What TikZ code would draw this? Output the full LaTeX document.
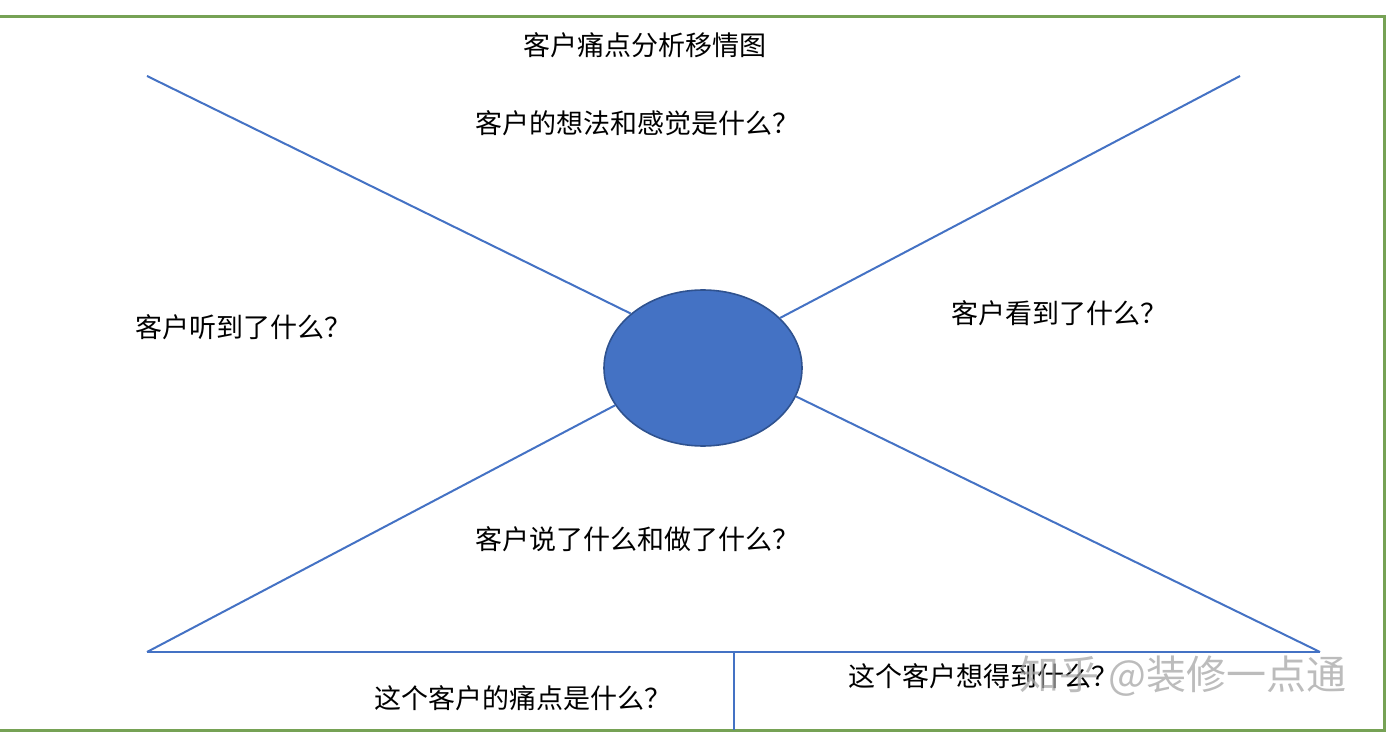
\documentclass[tikz,border=0pt]{standalone}
\usepackage{fontspec}
\newfontfamily\cjk{Noto Sans CJK SC}
\usetikzlibrary{shapes.geometric}
\definecolor{frame}{HTML}{76A255}
\definecolor{lineblue}{HTML}{4472C4}
\definecolor{ellborder}{HTML}{2F528F}
\tikzset{
  lbl/.style={font=\cjk\fontsize{13.5pt}{16pt}\selectfont, inner sep=0pt, text=black},
  conn/.style={draw=lineblue, line width=1pt},
  wm/.style={font=\cjk\fontsize{20pt}{24pt}\selectfont, inner sep=0pt, text=gray!70, opacity=0.75}
}
\begin{document}
\begin{tikzpicture}[x=0.5pt,y=-0.5pt]
\useasboundingbox (0,0) rectangle (1386,732);
\draw[frame, line width=1.5pt] (-10,17) rectangle (1384,730);
% center ellipse
\node[ellipse, draw=ellborder, line width=0.8pt, fill=lineblue, minimum width=198\pgflinewidth*0+99pt, minimum height=78pt, inner sep=0pt] (ell) at (703,368) {};
% corners
\coordinate (tl) at (147,76);
\coordinate (tr) at (1240,76);
\coordinate (bl) at (147,652);
\coordinate (br) at (1320,652);
\coordinate (mb) at (734,652);
\coordinate (mbot) at (734,730);
\draw[conn] (tl) -- (ell.143.5);
\draw[conn] (tr) -- (ell.33);
\draw[conn] (bl) -- (ell.203.4);
\draw[conn] (br) -- (ell.-17);
\draw[conn] (bl) -- (br);
\draw[conn] (mb) -- (mbot);
% texts
\node[lbl] (title) at (644.5,45) {客户痛点分析移情图};
\node[lbl] (think) at (637,123) {客户的想法和感觉是什么？};
\node[lbl] (hear) at (243,327) {客户听到了什么？};
\node[lbl] (see) at (1059,313) {客户看到了什么？};
\node[lbl] (say) at (637,539) {客户说了什么和做了什么？};
\node[lbl] (pain) at (523,698) {这个客户的痛点是什么？};
\node[lbl] (gain) at (983,676) {这个客户想得到什么？};
\node[wm] (mark) at (1183,676) {知乎 @装修一点通};
\end{tikzpicture}
\end{document}
